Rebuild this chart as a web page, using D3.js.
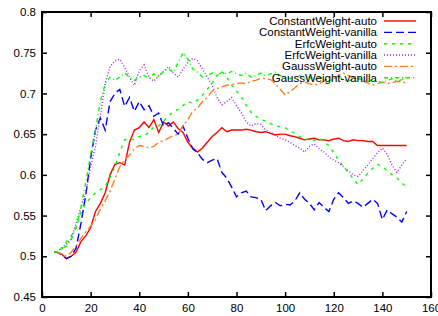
<!DOCTYPE html>
<html>
<head>
<meta charset="utf-8">
<script src="https://cdn.jsdelivr.net/npm/d3@7"></script>
<style>
  body { margin: 0; background: #fff; }
  text { font-family: "Liberation Sans", Arial, sans-serif; }
</style>
</head>
<body>
<svg id="chart"></svg>
<script>
// iterations (x values shared by all series)
const iterations = [5, 6, 8, 10, 12, 14, 16, 18, 20, 22, 24, 26, 28, 30, 32, 34, 36, 38, 40, 42, 44, 46, 48, 50,
  52, 54, 56, 58, 60, 62, 64, 66, 68, 70, 72, 74, 76, 78, 80, 82, 84, 86, 88, 90, 92, 94, 96, 98, 100,
  102, 104, 106, 108, 110, 112, 114, 116, 118, 120, 122, 124, 126, 128, 130, 132, 134, 136, 138, 140,
  142, 144, 146, 148, 150];

const constantAuto = [0.505, 0.505, 0.503, 0.497, 0.5, 0.505, 0.518, 0.525, 0.535, 0.555, 0.565, 0.578, 0.6, 0.613,
  0.615, 0.612, 0.64, 0.655, 0.658, 0.665, 0.658, 0.668, 0.652, 0.665, 0.66, 0.665, 0.657, 0.652, 0.64, 0.633,
  0.628, 0.633, 0.64, 0.647, 0.652, 0.658, 0.653, 0.655, 0.655, 0.655, 0.656, 0.655, 0.653, 0.652, 0.653, 0.651,
  0.649, 0.65, 0.65, 0.648, 0.647, 0.645, 0.643, 0.644, 0.645, 0.643, 0.643, 0.642, 0.644, 0.645, 0.642, 0.641,
  0.643, 0.642, 0.642, 0.641, 0.641, 0.636, 0.636, 0.636, 0.636, 0.636, 0.636, 0.636];

const constantVanilla = [0.505, 0.505, 0.502, 0.497, 0.5, 0.51, 0.54, 0.575, 0.62, 0.655, 0.67, 0.655, 0.69, 0.7,
  0.705, 0.684, 0.695, 0.678, 0.69, 0.68, 0.685, 0.672, 0.676, 0.66, 0.664, 0.657, 0.65, 0.66, 0.645, 0.632,
  0.627, 0.619, 0.615, 0.618, 0.62, 0.603, 0.596, 0.585, 0.573, 0.578, 0.58, 0.573, 0.572, 0.57, 0.556, 0.562,
  0.566, 0.562, 0.564, 0.563, 0.568, 0.578, 0.57, 0.565, 0.557, 0.566, 0.56, 0.555, 0.57, 0.578, 0.572, 0.565,
  0.568, 0.565, 0.56, 0.565, 0.57, 0.565, 0.545, 0.557, 0.552, 0.548, 0.542, 0.555];

const erfcAuto = [0.505, 0.505, 0.508, 0.518, 0.525, 0.535, 0.553, 0.565, 0.572, 0.578, 0.582, 0.586, 0.597, 0.61,
  0.628, 0.643, 0.645, 0.643, 0.647, 0.648, 0.652, 0.659, 0.66, 0.666, 0.672, 0.678, 0.68, 0.685, 0.69, 0.688,
  0.692, 0.698, 0.705, 0.713, 0.722, 0.727, 0.72, 0.71, 0.703, 0.696, 0.685, 0.677, 0.672, 0.668, 0.666, 0.663,
  0.66, 0.659, 0.658, 0.654, 0.651, 0.647, 0.643, 0.645, 0.642, 0.645, 0.64, 0.636, 0.627, 0.618, 0.61, 0.603,
  0.595, 0.588, 0.595, 0.602, 0.608, 0.613, 0.61, 0.605, 0.6, 0.596, 0.59, 0.585];

const erfcVanilla = [0.505, 0.505, 0.51, 0.515, 0.522, 0.54, 0.56, 0.578, 0.61, 0.635, 0.672, 0.713, 0.733, 0.74,
  0.742, 0.732, 0.72, 0.71, 0.728, 0.735, 0.72, 0.715, 0.722, 0.727, 0.733, 0.725, 0.72, 0.73, 0.738, 0.743,
  0.74, 0.73, 0.72, 0.71, 0.695, 0.686, 0.69, 0.695, 0.685, 0.676, 0.665, 0.66, 0.663, 0.662, 0.655, 0.652,
  0.649, 0.645, 0.643, 0.64, 0.636, 0.633, 0.628, 0.635, 0.638, 0.632, 0.628, 0.622, 0.618, 0.615, 0.61, 0.605,
  0.6, 0.598, 0.605, 0.612, 0.62, 0.627, 0.633, 0.625, 0.612, 0.603, 0.612, 0.62];

const gaussAuto = [0.505, 0.505, 0.503, 0.5, 0.505, 0.513, 0.522, 0.53, 0.537, 0.545, 0.558, 0.568, 0.58, 0.595,
  0.61, 0.619, 0.624, 0.632, 0.636, 0.635, 0.633, 0.635, 0.64, 0.642, 0.645, 0.648, 0.65, 0.66, 0.668, 0.678,
  0.682, 0.69, 0.695, 0.703, 0.706, 0.708, 0.71, 0.711, 0.712, 0.713, 0.712, 0.715, 0.716, 0.719, 0.718, 0.717,
  0.712, 0.705, 0.698, 0.702, 0.707, 0.712, 0.714, 0.712, 0.71, 0.712, 0.715, 0.72, 0.718, 0.722, 0.725, 0.722,
  0.72, 0.718, 0.715, 0.713, 0.71, 0.712, 0.714, 0.712, 0.713, 0.715, 0.714, 0.713];

const gaussVanilla = [0.505, 0.505, 0.51, 0.512, 0.52, 0.535, 0.56, 0.59, 0.625, 0.655, 0.69, 0.712, 0.72, 0.716,
  0.72, 0.725, 0.72, 0.716, 0.72, 0.722, 0.718, 0.724, 0.72, 0.727, 0.73, 0.726, 0.738, 0.75, 0.742, 0.73,
  0.726, 0.72, 0.722, 0.725, 0.722, 0.726, 0.724, 0.727, 0.724, 0.722, 0.725, 0.72, 0.722, 0.725, 0.722, 0.724,
  0.726, 0.722, 0.72, 0.718, 0.72, 0.722, 0.718, 0.72, 0.717, 0.72, 0.718, 0.715, 0.718, 0.72, 0.717, 0.715,
  0.718, 0.72, 0.716, 0.714, 0.717, 0.715, 0.713, 0.716, 0.718, 0.715, 0.717, 0.72];

const seriesNames = ['ConstantWeight-auto', 'ConstantWeight-vanilla', 'ErfcWeight-auto',
  'ErfcWeight-vanilla', 'GaussWeight-auto', 'GaussWeight-vanilla'];
const seriesValues = [constantAuto, constantVanilla, erfcAuto, erfcVanilla, gaussAuto, gaussVanilla];

const xTicks = [0, 20, 40, 60, 80, 100, 120, 140, 160];
const yTicks = [0.45, 0.5, 0.55, 0.6, 0.65, 0.7, 0.75, 0.8];

// line looks, same order as the series
const colors = ['#ff0000', '#0000ff', '#00ff00', '#a020f0', '#ff8020', '#00ff00'];
const dashes = [null, '8,4', '3,5', '1,2', '8,3,2,3', '4,3,1,3'];

// Set up SVG dimensions
const margin = { top: 12, right: 7, bottom: 19, left: 42 };
const width = 438 - margin.left - margin.right;
const height = 316 - margin.top - margin.bottom;

const svg = d3.select('#chart')
  .attr('width', width + margin.left + margin.right)
  .attr('height', height + margin.top + margin.bottom)
  .append('g')
  .attr('transform', `translate(${margin.left},${margin.top})`);

// Define scales
const xScale = d3.scaleLinear().domain([0, 160]).range([0, width]);
const yScale = d3.scaleLinear().domain([0.45, 0.8]).range([height, 0]);

// Axes with inward ticks on every side (gnuplot style)
const fmtY = d3.format('');
const xAxisB = svg.append('g')
  .attr('transform', `translate(0,${height})`)
  .call(d3.axisBottom(xScale).tickValues(xTicks).tickSize(-5).tickPadding(7));
const xAxisT = svg.append('g')
  .call(d3.axisTop(xScale).tickValues(xTicks).tickSize(-5).tickFormat(''));
const yAxisL = svg.append('g')
  .call(d3.axisLeft(yScale).tickValues(yTicks).tickSize(-5).tickPadding(6).tickFormat(d => fmtY(+d.toFixed(2))));
const yAxisR = svg.append('g')
  .attr('transform', `translate(${width},0)`)
  .call(d3.axisRight(yScale).tickValues(yTicks).tickSize(-5).tickFormat(''));

[xAxisB, xAxisT, yAxisL, yAxisR].forEach(g => {
  g.select('.domain').remove();
  g.selectAll('line').attr('stroke', '#000').attr('stroke-width', 1.5);
  g.selectAll('text').attr('fill', '#000').style('font-size', '11.5px')
    .style('font-family', '"Liberation Sans", Arial, sans-serif');
});

// Lines
const line = d3.line()
  .x((d, i) => xScale(iterations[i]))
  .y(d => yScale(d));

svg.append('clipPath').attr('id', 'clip')
  .append('rect').attr('width', width).attr('height', height);

seriesValues.forEach((vals, k) => {
  svg.append('path')
    .datum(vals)
    .attr('clip-path', 'url(#clip)')
    .attr('d', line)
    .attr('fill', 'none')
    .attr('stroke', colors[k])
    .attr('stroke-width', 1.4)
    .attr('stroke-dasharray', dashes[k]);
});

// Frame
svg.append('rect')
  .attr('width', width)
  .attr('height', height)
  .attr('fill', 'none')
  .attr('stroke', '#000')
  .attr('stroke-width', 2);

// Legend
const legend = svg.append('g').attr('transform', `translate(${377 - margin.left},${21 - margin.top})`);
seriesNames.forEach((name, k) => {
  const row = legend.append('g').attr('transform', `translate(0,${k * 11.35})`);
  row.append('text')
    .attr('x', 0)
    .attr('dy', '0.35em')
    .attr('text-anchor', 'end')
    .style('font-size', '11.5px')
    .attr('fill', '#000')
    .text(name);
  row.append('line')
    .attr('x1', 7).attr('x2', 39)
    .attr('stroke', colors[k])
    .attr('stroke-width', 1.4)
    .attr('stroke-dasharray', dashes[k]);
});
</script>
</body>
</html>
